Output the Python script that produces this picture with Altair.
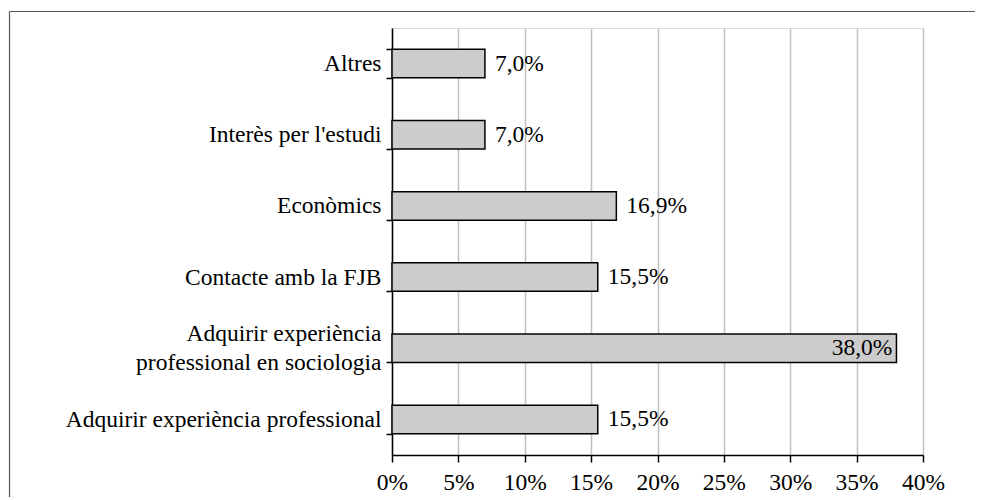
import altair as alt
import pandas as pd

categories = [
    "Altres",
    "Interès per l'estudi",
    "Econòmics",
    "Contacte amb la FJB",
    "Adquirir experiència professional en sociologia",
    "Adquirir experiència professional",
]
values = [7.0, 7.0, 16.9, 15.5, 38.0, 15.5]
x_ticks = [0, 5, 10, 15, 20, 25, 30, 35, 40]

df = pd.DataFrame({"cat": categories, "val": values})
FONT = "Liberation Serif"
FS = 23.5
LONG = "Adquirir experiència professional en sociologia"

y_enc = alt.Y(
    "cat:N",
    sort=categories,
    title=None,
    scale=alt.Scale(paddingInner=0.6, paddingOuter=0.3),
    axis=alt.Axis(
        tickBand="extent",
        tickSize=6,
        tickColor="black",
        tickWidth=1.5,
        domainColor="black",
        domainWidth=1.5,
        labelFont=FONT,
        labelFontSize=FS,
        labelColor="black",
        labelPadding=5,
        labelLimit=0,
        labelLineHeight=29,
        labelOffset={"condition": {"test": f"datum.value == '{LONG}'", "value": -14.5}, "value": 0},
        labelExpr=f"datum.value == '{LONG}' ? ['Adquirir experiència', 'professional en sociologia'] : datum.label",
        grid=False,
    ),
)

x_enc = alt.X(
    "val:Q",
    title=None,
    scale=alt.Scale(domain=[0, 40], nice=False),
    axis=alt.Axis(
        values=x_ticks,
        labelExpr="datum.value + '%'",
        labelFlush=False,
        tickSize=7,
        tickColor="black",
        tickWidth=1.5,
        domainColor="black",
        domainWidth=1.5,
        labelFont=FONT,
        labelFontSize=FS,
        labelColor="black",
        labelPadding=8,
        grid=True,
        gridColor="#c0c0c0",
        gridWidth=1.5,
    ),
)

base = alt.Chart(df).transform_calculate(
    lab="replace(format(datum.val, '.1f'), '.', ',') + '%'"
)

bars = base.mark_bar(fill="#cccccc", stroke="black", strokeWidth=1.5).encode(
    x=x_enc, y=y_enc
)

text_out = base.transform_filter("datum.val < 30").mark_text(
    align="left", baseline="middle", dx=10, font=FONT, fontSize=FS, color="black"
).encode(x="val:Q", y=alt.Y("cat:N", sort=categories), text="lab:N")

text_in = base.transform_filter("datum.val >= 30").mark_text(
    align="right", baseline="middle", dx=-4, font=FONT, fontSize=FS, color="black"
).encode(x="val:Q", y=alt.Y("cat:N", sort=categories), text="lab:N")

frame_df = pd.DataFrame({"a": [0]})
frame_top = alt.Chart(frame_df).mark_rule(color="#555555", strokeWidth=1.2).encode(
    x=alt.value(-382.5), x2=alt.value(583), y=alt.value(-16.5)
)
frame_left = alt.Chart(frame_df).mark_rule(color="#555555", strokeWidth=1.2).encode(
    x=alt.value(-382.5), y=alt.value(-16.5), y2=alt.value(480)
)

chart = (
    alt.layer(bars, text_out, text_in, frame_top, frame_left)
    .properties(
        width=531,
        height=427,
        autosize=alt.AutoSizeParams(type="none"),
        padding={"left": 384, "top": 20, "right": 52, "bottom": 42},
    )
    .configure_view(stroke="black", strokeWidth=1.5)
    .configure_axis(labelFont=FONT, labelFontSize=FS, labelColor="black")
    .configure_text(font=FONT, fontSize=FS)
    .configure(background="white", font=FONT)
)

chart.save("out.html", embed_options={"renderer": "svg", "actions": False})
